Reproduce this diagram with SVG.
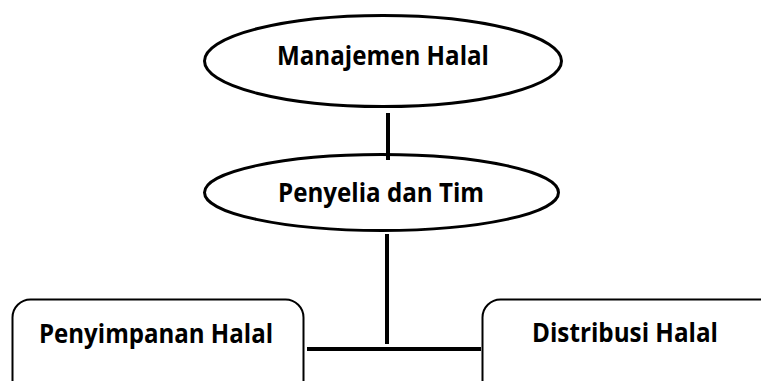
<svg xmlns="http://www.w3.org/2000/svg" width="761" height="381" viewBox="0 0 761 381">
  <style>
    .ell { fill: #ffffff; stroke: #000000; stroke-width: 3; }
    .box { fill: #ffffff; stroke: #000000; stroke-width: 2; }
    .lbl { font-family: "Open Sans", "Liberation Sans", sans-serif; font-weight: 700; font-size: 27px; fill: #000000; text-anchor: middle; }
    .con { stroke: #000000; stroke-width: 4; fill: none; }
  </style>
  <rect width="761" height="381" fill="#ffffff"/>
  <g id="node-manajemen">
    <ellipse class="ell" cx="383" cy="61" rx="178.5" ry="45.5"/>
    <text class="lbl" x="383" y="65" textLength="212" lengthAdjust="spacingAndGlyphs">Manajemen Halal</text>
  </g>
  <g id="node-penyelia">
    <ellipse class="ell" cx="381.5" cy="192.5" rx="177" ry="38"/>
    <text class="lbl" x="381" y="202" textLength="206" lengthAdjust="spacingAndGlyphs">Penyelia dan Tim</text>
  </g>
  <g id="node-penyimpanan">
    <rect class="box" x="12.5" y="299.5" width="291" height="110" rx="18" ry="18"/>
    <text class="lbl" x="156" y="343" textLength="234" lengthAdjust="spacingAndGlyphs">Penyimpanan Halal</text>
  </g>
  <g id="node-distribusi">
    <rect class="box" x="482.5" y="299.5" width="320" height="110" rx="18" ry="18"/>
    <text class="lbl" x="625" y="342" textLength="186" lengthAdjust="spacingAndGlyphs">Distribusi Halal</text>
  </g>
  <g id="connectors">
    <line class="con" x1="388" y1="113" x2="388" y2="160"/>
    <line class="con" x1="387" y1="234" x2="387" y2="344"/>
    <line class="con" x1="307" y1="349" x2="481" y2="349"/>
  </g>
</svg>
